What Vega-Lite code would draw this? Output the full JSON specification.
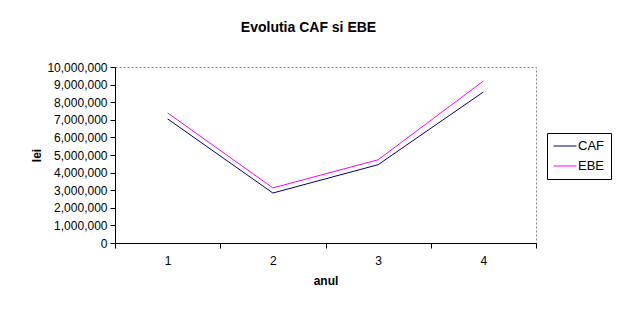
{
  "$schema": "https://vega.github.io/schema/vega-lite/v6.json",
  "autosize": {"type": "none"},
  "padding": {"left": 115, "top": 67, "right": 83, "bottom": 71},
  "width": 421,
  "height": 176,
  "background": "white",
  "title": {
    "text": "Evolutia CAF si EBE",
    "font": "Liberation Sans",
    "fontSize": 14,
    "fontWeight": "bold",
    "color": "black",
    "anchor": "middle",
    "dx": -17,
    "offset": 26
  },
  "data": {
    "values": [
      {"anul": "1", "serie": "CAF", "lei": 7050000},
      {"anul": "2", "serie": "CAF", "lei": 2840000},
      {"anul": "3", "serie": "CAF", "lei": 4450000},
      {"anul": "4", "serie": "CAF", "lei": 8580000},
      {"anul": "1", "serie": "EBE", "lei": 7390000},
      {"anul": "2", "serie": "EBE", "lei": 3130000},
      {"anul": "3", "serie": "EBE", "lei": 4730000},
      {"anul": "4", "serie": "EBE", "lei": 9200000}
    ]
  },
  "mark": {"type": "line", "strokeWidth": 1},
  "encoding": {
    "x": {
      "field": "anul",
      "type": "ordinal",
      "scale": {"type": "band", "paddingInner": 0, "paddingOuter": 0},
      "axis": {
        "title": "anul",
        "labelAngle": 0,
        "tickBand": "extent",
        "tickSize": 5,
        "labelPadding": 7,
        "titlePadding": 9
      }
    },
    "y": {
      "field": "lei",
      "type": "quantitative",
      "scale": {"domain": [0, 10000000], "nice": false},
      "axis": {
        "title": "lei",
        "values": [0, 1000000, 2000000, 3000000, 4000000, 5000000, 6000000, 7000000, 8000000, 9000000, 10000000],
        "format": ",.0f",
        "tickSize": 5,
        "labelPadding": 3,
        "titlePadding": 3,
        "grid": false
      }
    },
    "color": {
      "field": "serie",
      "type": "nominal",
      "scale": {"domain": ["CAF", "EBE"], "range": ["#000080", "#FF00FF"]},
      "legend": {
        "title": null,
        "orient": "none",
        "legendX": 432,
        "legendY": 66,
        "strokeColor": "black",
        "padding": 6,
        "symbolType": "M-1,0H1",
        "symbolSize": 529,
        "symbolStrokeWidth": 1,
        "labelOffset": 1,
        "labelFontSize": 13,
        "clipHeight": 14,
        "rowPadding": 6
      }
    }
  },
  "config": {
    "font": "Liberation Sans",
    "view": {"stroke": "#808080", "strokeDash": [2, 2], "strokeWidth": 1},
    "axis": {
      "domainColor": "black",
      "tickColor": "black",
      "labelColor": "black",
      "titleColor": "black",
      "labelFont": "Liberation Sans",
      "titleFont": "Liberation Sans",
      "labelFontSize": 12,
      "titleFontSize": 12,
      "titleFontWeight": "bold"
    },
    "legend": {
      "labelFont": "Liberation Sans",
      "labelFontSize": 13,
      "labelColor": "black"
    }
  }
}
